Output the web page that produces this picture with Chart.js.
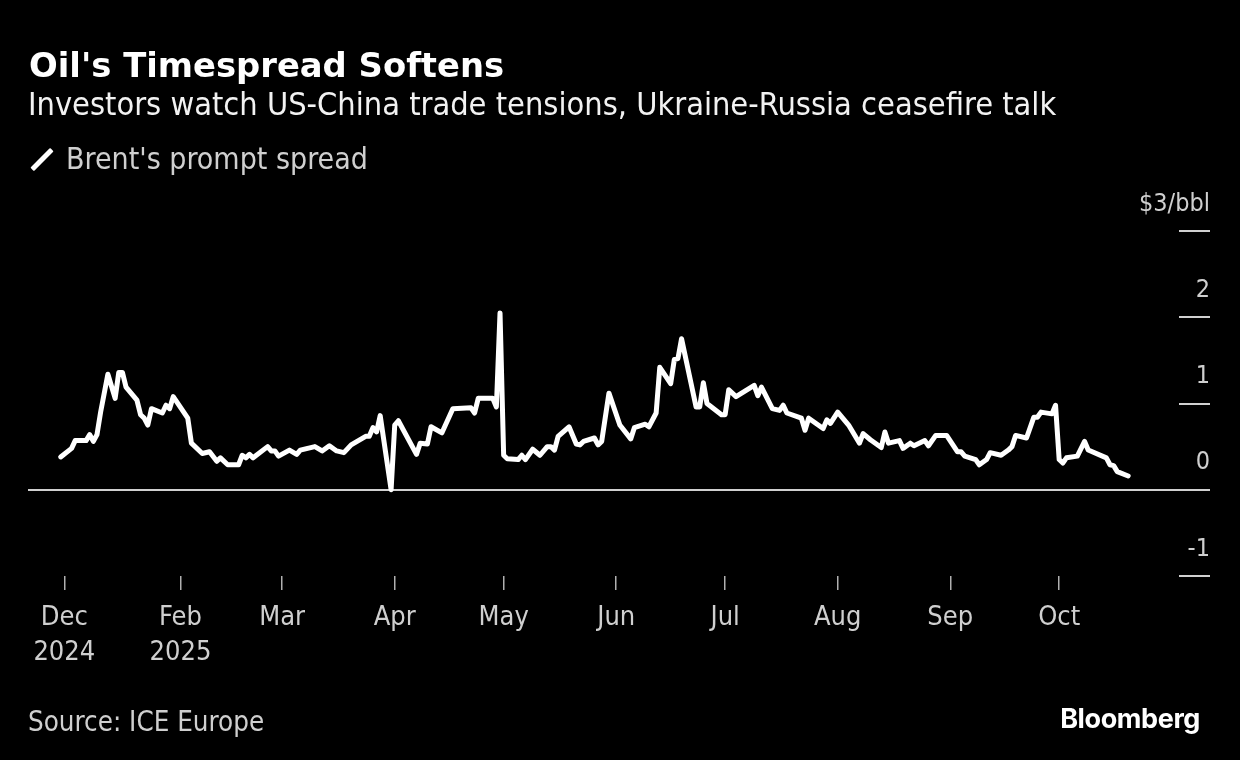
<!DOCTYPE html>
<html>
<head>
<meta charset="utf-8">
<script src="https://cdn.jsdelivr.net/npm/chart.js@4/dist/chart.umd.min.js"></script>
<style>
html, body { margin: 0; padding: 0; background: #000; }
#wrap { position: relative; width: 1240px; height: 760px; overflow: hidden; background: #000; }
#chart { position: absolute; left: 0; top: 0; }
.t { position: absolute; white-space: nowrap; line-height: 1; }
#title { left: 29px; top: 46px; font: bold 33.8px "DejaVu Sans"; color: #fff; }
#sub { left: 28px; top: 85px; font: 32.25px "DejaVu Sans Condensed"; color: #f2f2f2; }
#leg { left: 66px; top: 141px; font: 30px "DejaVu Sans Condensed"; color: #cfcfcf; }
#legIcon { position: absolute; left: 28px; top: 157px; width: 28px; height: 5px; background: #fff; transform: rotate(-45deg); border-radius: 1px; }
#src { left: 28px; top: 705px; font: 27.5px "DejaVu Sans Condensed"; color: #cfcfcf; }
#logo { right: 40px; top: 702px; font: bold 27px Inter; color: #fff; letter-spacing: -0.4px; }
</style>
</head>
<body>
<div id="wrap">
  <canvas id="chart" width="1240" height="760"></canvas>
  <div class="t" id="title">Oil's Timespread Softens</div>
  <div class="t" id="sub">Investors watch US-China trade tensions, Ukraine-Russia ceasefire talk</div>
  <div id="legIcon"></div>
  <div class="t" id="leg">Brent's prompt spread</div>
  <div class="t" id="src">Source: ICE Europe</div>
  <div class="t" id="logo">Bloomberg</div>
</div>
<script>
// день от 1 января 2025 и значение спреда, $/bbl
const days = [
  -2, 1, 2, 5, 6, 7, 8, 9, 11, 13, 14, 15, 16, 19, 20, 21, 22, 23, 26, 27,
  28, 29, 33, 34, 37, 39, 41, 42, 44, 47, 48, 49, 50, 51, 55, 56, 57, 58, 61, 63,
  64, 68, 70, 72, 74, 76, 78, 82, 83, 84, 85, 86, 89, 90, 91, 96, 97, 99, 100, 103,
  106, 111, 112, 113, 117, 118, 119, 120, 121, 124, 125, 126, 128, 130, 132, 133, 134, 135, 138, 140,
  141, 142, 145, 146, 147, 149, 152, 155, 156, 159, 160, 162, 163, 166, 167, 168, 169, 173, 174, 175,
  176, 180, 181, 182, 184, 189, 190, 191, 194, 196, 197, 198, 202, 203, 204, 208, 209, 210, 212, 215,
  218, 219, 221, 224, 225, 226, 229, 230, 232, 233, 236, 237, 239, 242, 245, 246, 247, 250, 251, 253,
  254, 257, 259, 260, 261, 264, 266, 267, 268, 271, 272, 273, 274, 275, 278, 280, 281, 286, 287, 288,
  289, 292
];
const spread = [
  0.38, 0.48, 0.57, 0.57, 0.64, 0.56, 0.64, 0.90, 1.34, 1.06, 1.36, 1.36, 1.19, 1.04, 0.87, 0.83, 0.75, 0.94, 0.89, 0.98,
  0.94, 1.08, 0.83, 0.54, 0.42, 0.44, 0.33, 0.37, 0.29, 0.29, 0.40, 0.37, 0.41, 0.37, 0.50, 0.45, 0.45, 0.39, 0.46, 0.41,
  0.46, 0.50, 0.45, 0.51, 0.45, 0.43, 0.52, 0.62, 0.62, 0.72, 0.67, 0.86, 0.00, 0.75, 0.80, 0.41, 0.54, 0.53, 0.73, 0.66,
  0.94, 0.95, 0.89, 1.06, 1.06, 0.96, 2.05, 0.40, 0.36, 0.35, 0.40, 0.35, 0.47, 0.40, 0.50, 0.50, 0.46, 0.62, 0.73, 0.53,
  0.52, 0.56, 0.60, 0.52, 0.56, 1.12, 0.75, 0.59, 0.72, 0.76, 0.73, 0.89, 1.42, 1.23, 1.51, 1.52, 1.75, 0.96, 0.96, 1.24,
  1.00, 0.87, 0.87, 1.16, 1.08, 1.21, 1.09, 1.19, 0.94, 0.92, 0.98, 0.89, 0.83, 0.69, 0.83, 0.71, 0.81, 0.77, 0.90, 0.75,
  0.54, 0.65, 0.58, 0.49, 0.67, 0.54, 0.57, 0.48, 0.54, 0.51, 0.57, 0.51, 0.63, 0.63, 0.44, 0.44, 0.39, 0.35, 0.29, 0.35,
  0.43, 0.40, 0.46, 0.50, 0.63, 0.60, 0.84, 0.84, 0.90, 0.88, 0.98, 0.35, 0.31, 0.37, 0.39, 0.56, 0.46, 0.37, 0.29, 0.28,
  0.21, 0.16
];
// подписи оси X (позиции в днях от 1 января 2025)
const tickDays = [-1, 31, 59, 90, 120, 151, 181, 212, 243, 273];
const tickLabels = [['Dec', '2024'], ['Feb', '2025'], 'Mar', 'Apr', 'May', 'Jun', 'Jul', 'Aug', 'Sep', 'Oct'];
const yTicks = [-1, 0, 1, 2, 3];
const yUnitLabel = '$3/bbl';

const labelFont = { family: '"DejaVu Sans Condensed", "DejaVu Sans"', size: 27, lineHeight: 1.3 };

new Chart(document.getElementById('chart'), {
    type: 'line',
    data: {
        datasets: [{
            label: "Brent's prompt spread",
            data: days.map((d, i) => ({ x: d, y: spread[i] })),
            borderColor: '#ffffff',
            borderWidth: 5,
            borderJoinStyle: 'round',
            borderCapStyle: 'round',
            pointRadius: 0,
            tension: 0
        }]
    },
    options: {
        responsive: false,
        animation: false,
        layout: { padding: { left: 28, right: 30, top: 231, bottom: 84 } },
        plugins: { legend: { display: false }, tooltip: { enabled: false } },
        scales: {
            x: {
                type: 'linear',
                position: 'bottom',
                min: -11,
                max: 306,
                afterBuildTicks: scale => { scale.ticks = tickDays.map(v => ({ value: v })); },
                afterFit: scale => { scale.height = 100; scale.paddingLeft = 0; scale.paddingRight = 0; },
                border: { display: false },
                grid: { drawOnChartArea: false, tickLength: 14, color: '#b0b0b0', lineWidth: 1.5 },
                ticks: {
                    autoSkip: false,
                    maxRotation: 0,
                    padding: 10,
                    color: '#cfcfcf',
                    font: labelFont,
                    callback: (v, i) => tickLabels[i]
                }
            },
            y: {
                position: 'right',
                min: -1,
                max: 3,
                afterBuildTicks: scale => { scale.ticks = yTicks.map(v => ({ value: v })); },
                afterFit: scale => { scale.width = 31; scale.paddingTop = 0; scale.paddingBottom = 0; },
                border: { display: false },
                grid: {
                    drawOnChartArea: true,
                    tickLength: 31,
                    lineWidth: 2,
                    color: ctx => (ctx.tick && ctx.tick.value === 0) ? '#d0d0d0' : 'rgba(0,0,0,0)',
                    tickColor: '#d0d0d0'
                },
                ticks: {
                    mirror: true,
                    crossAlign: 'near',
                    padding: 31,
                    labelOffset: -27,
                    color: '#cfcfcf',
                    font: { family: '"DejaVu Sans Condensed", "DejaVu Sans"', size: 25 },
                    callback: v => v === 3 ? yUnitLabel : String(v)
                }
            }
        }
    }
});
</script>
</body>
</html>
